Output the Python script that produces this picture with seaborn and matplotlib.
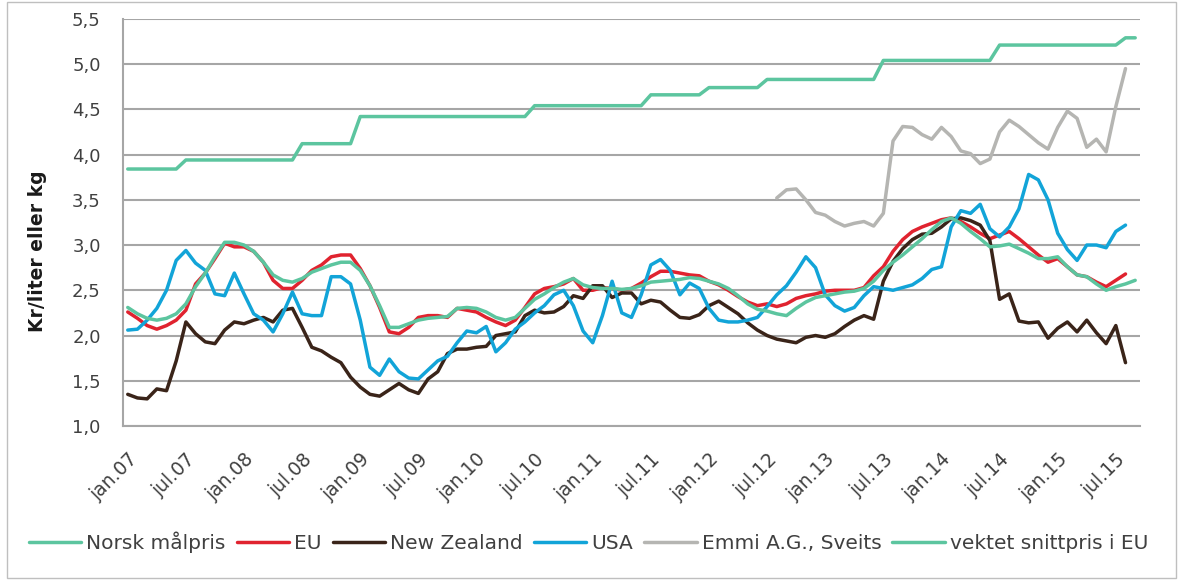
import numpy as np
import pandas as pd
import seaborn as sns
import matplotlib.pyplot as plt
from matplotlib.patches import Rectangle
from matplotlib.transforms import ScaledTranslation

# monthly, jan.07 .. sep.15
years = [7, 8, 9, 10, 11, 12, 13, 14, 15]
month_names = ['jan', 'feb', 'mar', 'apr', 'mai', 'jun', 'jul', 'aug', 'sep', 'okt', 'nov', 'des']
months = [f"{m}.{y:02d}" for y in years for m in month_names][:105]

tick_labels = ['jan.07', 'jul.07', 'jan.08', 'jul.08', 'jan.09', 'jul.09', 'jan.10', 'jul.10',
               'jan.11', 'jul.11', 'jan.12', 'jul.12', 'jan.13', 'jul.13', 'jan.14', 'jul.14',
               'jan.15', 'jul.15']

norsk = ([3.84] * 6 + [3.94] * 12 + [4.12] * 6 + [4.42] * 18 + [4.54] * 12 + [4.66] * 6
         + [4.74] * 6 + [4.83] * 12 + [5.04] * 12 + [5.21] * 13 + [5.29] * 2)

eu = [2.26, 2.19, 2.11, 2.07, 2.11, 2.17, 2.28, 2.57, 2.69, 2.85, 3.02, 2.98, 2.98, 2.93, 2.81,
      2.61, 2.52, 2.52, 2.61, 2.72, 2.78, 2.87, 2.89, 2.89, 2.74, 2.55, 2.31, 2.04, 2.02, 2.09,
      2.20, 2.22, 2.22, 2.20, 2.30, 2.28, 2.26, 2.20, 2.15, 2.11, 2.17, 2.31, 2.46, 2.52, 2.54,
      2.57, 2.63, 2.50, 2.50, 2.53, 2.52, 2.50, 2.52, 2.58, 2.65, 2.71, 2.71, 2.69, 2.67, 2.66,
      2.60, 2.56, 2.50, 2.43, 2.37, 2.33, 2.35, 2.32, 2.35, 2.41, 2.44, 2.46, 2.49, 2.50, 2.50,
      2.50, 2.53, 2.66, 2.76, 2.93, 3.06, 3.15, 3.20, 3.24, 3.28, 3.30, 3.26, 3.20, 3.13, 3.07,
      3.11, 3.15, 3.07, 2.98, 2.89, 2.81, 2.85, 2.76, 2.67, 2.65, 2.59, 2.54, 2.61, 2.68]

nz = [1.35, 1.31, 1.30, 1.41, 1.39, 1.72, 2.15, 2.02, 1.93, 1.91, 2.06, 2.15, 2.13, 2.17, 2.20,
      2.15, 2.28, 2.30, 2.09, 1.87, 1.83, 1.76, 1.70, 1.54, 1.43, 1.35, 1.33, 1.40, 1.47, 1.40,
      1.36, 1.52, 1.60, 1.80, 1.85, 1.85, 1.87, 1.88, 2.00, 2.02, 2.04, 2.22, 2.28, 2.25, 2.26,
      2.32, 2.44, 2.41, 2.55, 2.55, 2.42, 2.47, 2.47, 2.35, 2.39, 2.37, 2.28, 2.20, 2.19, 2.23,
      2.33, 2.38, 2.31, 2.24, 2.14, 2.06, 2.00, 1.96, 1.94, 1.92, 1.98, 2.00, 1.98, 2.02, 2.10,
      2.17, 2.22, 2.18, 2.60, 2.82, 2.96, 3.06, 3.12, 3.13, 3.20, 3.29, 3.30, 3.27, 3.22, 3.05,
      2.40, 2.46, 2.16, 2.14, 2.15, 1.97, 2.08, 2.15, 2.04, 2.17, 2.03, 1.91, 2.11, 1.70]

usa = [2.06, 2.07, 2.17, 2.30, 2.50, 2.83, 2.94, 2.80, 2.72, 2.46, 2.44, 2.69, 2.46, 2.24, 2.17,
       2.04, 2.24, 2.48, 2.24, 2.22, 2.22, 2.65, 2.65, 2.57, 2.17, 1.65, 1.56, 1.74, 1.60, 1.53,
       1.52, 1.62, 1.72, 1.77, 1.92, 2.05, 2.03, 2.10, 1.82, 1.92, 2.07, 2.15, 2.25, 2.33, 2.45,
       2.50, 2.33, 2.05, 1.92, 2.22, 2.60, 2.25, 2.20, 2.45, 2.78, 2.84, 2.72, 2.45, 2.58, 2.52,
       2.30, 2.17, 2.15, 2.15, 2.17, 2.20, 2.32, 2.45, 2.55, 2.70, 2.87, 2.75, 2.45, 2.33, 2.27,
       2.31, 2.44, 2.54, 2.52, 2.50, 2.53, 2.56, 2.63, 2.73, 2.76, 3.20, 3.38, 3.35, 3.45, 3.18,
       3.09, 3.20, 3.40, 3.78, 3.72, 3.50, 3.13, 2.95, 2.83, 3.00, 3.00, 2.97, 3.15, 3.22]

# Emmi A.G. starts aug.12 (index 67)
emmi_start = 67
emmi = [3.52, 3.61, 3.62, 3.50, 3.36, 3.33, 3.26, 3.21, 3.24, 3.26, 3.21, 3.35, 4.15, 4.31,
        4.30, 4.22, 4.17, 4.30, 4.20, 4.04, 4.01, 3.90, 3.95, 4.25, 4.38, 4.31, 4.22, 4.13,
        4.06, 4.30, 4.48, 4.40, 4.08, 4.17, 4.03, 4.53, 4.95]

vektet = [2.31, 2.24, 2.19, 2.17, 2.19, 2.24, 2.35, 2.54, 2.69, 2.87, 3.03, 3.03, 3.00, 2.93,
          2.81, 2.67, 2.61, 2.59, 2.63, 2.70, 2.74, 2.78, 2.81, 2.81, 2.72, 2.55, 2.33, 2.09,
          2.09, 2.13, 2.17, 2.19, 2.20, 2.21, 2.30, 2.31, 2.30, 2.26, 2.20, 2.17, 2.20, 2.30,
          2.40, 2.46, 2.53, 2.59, 2.63, 2.56, 2.53, 2.52, 2.52, 2.51, 2.52, 2.55, 2.59, 2.60,
          2.61, 2.62, 2.64, 2.63, 2.60, 2.57, 2.52, 2.44, 2.35, 2.29, 2.27, 2.24, 2.22, 2.30,
          2.37, 2.42, 2.44, 2.46, 2.48, 2.49, 2.52, 2.60, 2.72, 2.81, 2.89, 2.98, 3.07, 3.17,
          3.26, 3.30, 3.24, 3.15, 3.07, 2.98, 2.99, 3.01, 2.96, 2.91, 2.85, 2.85, 2.87, 2.76,
          2.67, 2.65, 2.57, 2.50, 2.54, 2.57, 2.61]

series = [
    ("Norsk målpris", norsk, 0, "#5cc59f"),
    ("EU", eu, 0, "#e0232f"),
    ("New Zealand", nz, 0, "#3a2419"),
    ("USA", usa, 0, "#12a4d8"),
    ("Emmi A.G., Sveits", emmi, emmi_start, "#b5b5b2"),
    ("vektet snittpris i EU", vektet, 0, "#5cc59f"),
]

sns.set_style("white")
plt.rcParams['font.family'] = ['DejaVu Sans']

fig = plt.figure(figsize=(11.82, 5.88), dpi=100)
ax = fig.add_axes([0.104, 0.2755, 0.8605, 0.6925])

for name, vals, start, col in series:
    idx = np.arange(start, start + len(vals))
    df = pd.DataFrame({"m": idx, "v": vals})
    sns.lineplot(data=df, x="m", y="v", color=col, linewidth=2.5, label=name, ax=ax,
                 legend=False)

ax.set_xlim(-0.5, len(months) - 0.5)
ax.set_ylim(1.0, 5.5)
yt = np.arange(1.0, 5.51, 0.5)
ax.set_yticks(yt)
ax.set_yticklabels([f"{v:.1f}".replace('.', ',') for v in yt], fontsize=13, color='#404040')
ax.set_xticks([months.index(t) for t in tick_labels])
ax.set_xticklabels(tick_labels, rotation=45, ha='right', va='top', rotation_mode='anchor',
                   fontsize=13.5, color='#404040')
shift = ScaledTranslation(5 / 100, 0, fig.dpi_scale_trans)
for lab in ax.get_xticklabels():
    lab.set_transform(lab.get_transform() + shift)
ax.set_xticks(np.arange(-0.5, len(months), 1), minor=True)
ax.tick_params(axis='x', which='major', length=0, pad=17)
ax.tick_params(axis='x', which='minor', length=5, color='#a6a6a6', width=1)
ax.tick_params(axis='y', length=0, pad=16)

ax.grid(axis='y', color='#a6a6a6', linewidth=1.5)
ax.set_axisbelow(True)
for s in ['top', 'right']:
    ax.spines[s].set_visible(False)
for s in ['left', 'bottom']:
    ax.spines[s].set_color('#a6a6a6')
    ax.spines[s].set_linewidth(1.5)

ax.set_xlabel("")
ax.set_ylabel("")
fig.text(38 / 1182, 0.573, "Kr/liter eller kg", rotation=90, ha='center', va='center',
         fontsize=13.5, fontweight='bold', color='#1a1a1a')

handles, labels = ax.get_legend_handles_labels()
fig.legend(handles, labels, loc='center', bbox_to_anchor=(0.498, 0.078), ncol=6, frameon=False,
           fontsize=14.5, handlelength=2.6, handletextpad=0.25, columnspacing=0.55,
           labelcolor='#404040')

fig.patches.append(Rectangle((0.006, 0.017), 0.989, 0.98, transform=fig.transFigure,
                             fill=False, edgecolor='#bfbfbf', linewidth=1))

fig.savefig("out.png", dpi=100)
